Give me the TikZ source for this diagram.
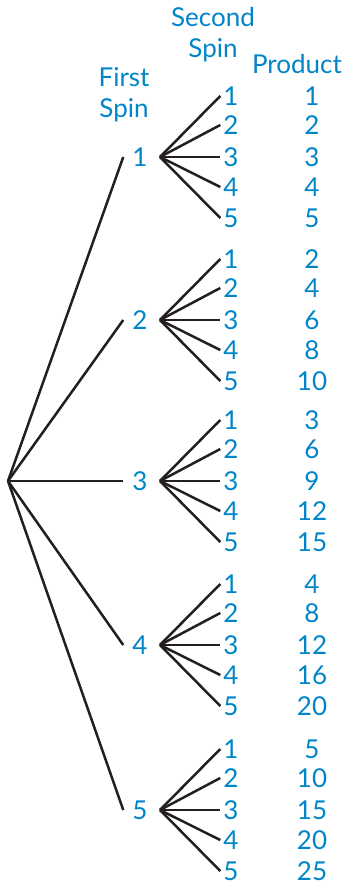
\documentclass[tikz,border=0pt]{standalone}
\usepackage{fontspec}
\setmainfont{Lato}
\definecolor{tblue}{RGB}{0,133,200}
\definecolor{tline}{RGB}{35,31,32}
\begin{document}
\begin{tikzpicture}[x=1pt,y=-1pt,
  lbl/.style={text=tblue,font=\fontsize{26}{30}\selectfont,inner sep=0pt,anchor=center},
  hdr/.style={text=tblue,font=\fontsize{26}{31}\selectfont,inner sep=0pt,align=center},
  br/.style={draw=tline,line width=2.5pt}]
\useasboundingbox (0,0) rectangle (345,888);
\node[hdr] (hsecond) at (213,35) {Second\\Spin};
\node[hdr] (hprod) at (297,64) {Product};
\node[hdr] (hfirst) at (124,95) {First\\Spin};
\coordinate (root) at (8,481);
\foreach \i/\y in {1/157,2/320,3/481,4/645,5/810}{
  \node[lbl] (f\i) at (140,\y) {\i};
  \draw[br] (root) -- ([xshift=-9pt]f\i.west);
  \coordinate (b\i) at (160,\y);
  \foreach \j/\o in {1/-61,2/-32,3/0,4/30,5/61}{
    \node[lbl] (s\i\j) at (231,\y+\o) {\j};
    \pgfmathtruncatemacro{\p}{\i*\j}
    \node[lbl] (p\i\j) at (312,\y+\o) {\p};
    \draw[br] (b\i) -- ([xshift=-3pt]s\i\j.west);
  }
}
\end{tikzpicture}
\end{document}
